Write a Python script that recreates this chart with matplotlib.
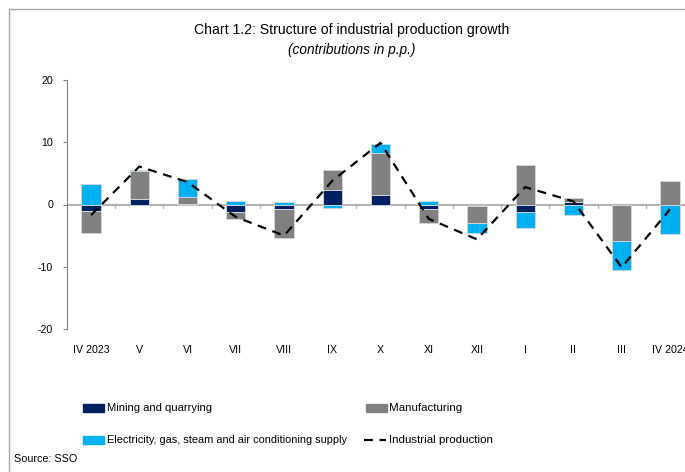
import matplotlib
matplotlib.use('Agg')
import matplotlib.pyplot as plt
from matplotlib.patches import Rectangle
from matplotlib.lines import Line2D
import numpy as np

plt.rcParams['font.family'] = ['Liberation Sans', 'DejaVu Sans']
plt.rcParams['axes.unicode_minus'] = False

meses = ['IV 2023', 'V', 'VI', 'VII', 'VIII', 'IX', 'X', 'XI', 'XII', 'I', 'II', 'III', 'IV 2024']
mineria = [-1.1, 0.85, 0.05, -1.2, -0.8, 2.4, 1.6, -0.8, -0.3, -1.2, 0.4, -0.1, 0.0]
manufactura = [-3.5, 4.5, 1.2, -1.1, -4.6, 3.2, 6.75, -2.2, -2.6, 6.4, 0.7, -5.8, 3.7]
electricidad = [3.3, 0.2, 2.8, 0.6, 0.4, -0.6, 1.4, 0.6, -1.6, -2.6, -1.7, -4.7, -4.7]
produccion = [-1.7, 6.1, 3.6, -2.0, -5.0, 3.8, 9.9, -2.3, -5.6, 2.8, 0.5, -10.1, -0.8]

colores = ['#002060', '#808080', '#00B0F0']
series = [mineria, manufactura, electricidad]

W, H = 685, 472
fig = plt.figure(figsize=(W / 100, H / 100), dpi=100)
r = fig.canvas.get_renderer()
ax = fig.add_axes([67 / W, 1 - 329 / H, (694 - 67) / W, (329 - 80) / H])

def texto(xp, yp, s, ancho, **kw):
    # ajusta el tamaño para que el texto ocupe el ancho del original
    t = fig.text(xp / W, 1 - yp / H, s, fontsize=10, va='center', **kw)
    w = t.get_window_extent(renderer=r).width
    t.set_fontsize(10 * ancho / w)
    return t

x = np.arange(len(meses))
pos = np.zeros(len(meses))
neg = np.zeros(len(meses))
for vals, c in zip(series, colores):
    v = np.array(vals)
    base = np.where(v >= 0, pos, neg)
    ax.bar(x, v, 0.4, bottom=base, color=c, edgecolor='#d9d9d9', linewidth=0.6, zorder=3)
    pos += np.where(v >= 0, v, 0)
    neg += np.where(v < 0, v, 0)

ax.plot(x, produccion, color='black', linestyle=(0, (4, 3)), linewidth=1.6, zorder=4)
ax.axhline(0, color='#b3b3b3', linewidth=1.5, zorder=2)
# marcas entre categorias
for k in range(len(meses) - 1):
    ax.plot([k + 0.5, k + 0.5], [0, -0.6], color='#b3b3b3', linewidth=0.9, zorder=2)

ax.set_xlim(-0.5, len(meses) - 0.5)
ax.set_ylim(-20, 20)
ax.set_yticks([-20, -10, 0, 10, 20])
ax.set_xticks([])
t0 = texto(0, 0, 'IV 2023', 37)
fs = t0.get_fontsize()
t0.remove()
for k, m in enumerate(meses):
    ax.text(k, -23.4, m, ha='center', va='center', fontsize=fs)
for s in ['top', 'right', 'bottom']:
    ax.spines[s].set_visible(False)
ax.spines['left'].set_color('#808080')
ax.tick_params(axis='y', direction='out', length=3, color='#808080', labelsize=fs, pad=7)

texto(352, 30, 'Chart 1.2: Structure of industrial production growth', 315, ha='center')
texto(352, 50, '(contributions in p.p.)', 128, ha='center', style='italic')

# leyenda
def parche(xp, yp, c):
    fig.patches.append(Rectangle((xp / W, 1 - (yp + 4) / H), 21 / W, 8 / H,
                                 transform=fig.transFigure, color=c))

parche(83, 408, colores[0])
texto(107, 408, 'Mining and quarrying', 106)
parche(366, 408, colores[1])
texto(389, 408, 'Manufacturing', 73)
parche(83, 440, colores[2])
texto(107, 440, 'Electricity, gas, steam and air conditioning supply', 241)
fig.lines.append(Line2D([364 / W, 386 / W], [1 - 440 / H, 1 - 440 / H],
                        transform=fig.transFigure, color='black',
                        linestyle=(0, (4, 3)), linewidth=1.6))
texto(389, 440, 'Industrial production', 104)
texto(14, 459, 'Source: SSO', 63)

# marco
fig.patches.append(Rectangle((9 / W, -0.05), 1.1, 1 - 9 / H + 0.05, transform=fig.transFigure,
                             fill=False, edgecolor='#a6a6a6', linewidth=1))

fig.savefig('out.png', dpi=100)
